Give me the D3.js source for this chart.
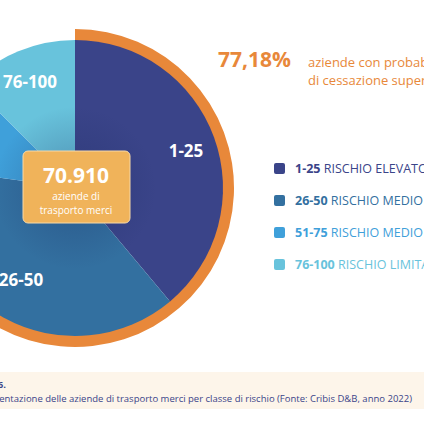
<!DOCTYPE html><html><head><meta charset="utf-8">
<script src="https://cdn.jsdelivr.net/npm/d3@7"></script>
<style>body{margin:0;background:#fff}svg{display:block;font-family:"Open Sans",sans-serif}</style></head><body>
<svg id="c" width="424" height="424"></svg>
<script>
const categories=["1-25","26-50","51-75","76-100"];
const values=[38.9,38.28,10.32,12.5];
const legendNames=["RISCHIO ELEVATO","RISCHIO MEDIO ALTO","RISCHIO MEDIO BASSO","RISCHIO LIMITATO"];
const colors=["#3A4489","#3370A0","#3FA0DA","#68C3DC"];
const highlightPct=77.18;
const total="70.910";
const svg=d3.select("#c");
const cx=75,cy=188,r=148;
const defs=svg.append("defs");
const rg=defs.append("radialGradient").attr("id","sh");
rg.append("stop").attr("offset","0").attr("stop-color","#1a2a60").attr("stop-opacity",0.35);
rg.append("stop").attr("offset","0.55").attr("stop-color","#1a2a60").attr("stop-opacity",0);
const g=svg.append("g").attr("transform",`translate(${cx},${cy})`);
const pie=d3.pie().sort(null).value(d=>d)(values);
const arc=d3.arc().innerRadius(0).outerRadius(r);
g.append("path").attr("fill","#E8883A").attr("d",d3.arc().innerRadius(r-2).outerRadius(r+11)({startAngle:0,endAngle:2*Math.PI*highlightPct/100}));
g.selectAll("path.s").data(pie).join("path").attr("class","s").attr("fill",(d,i)=>colors[i]).attr("d",arc);
g.append("circle").attr("r",r).attr("fill","url(#sh)");
const labelPos=[[111,-31],[-54,98],null,[-45,-100]];
categories.forEach((c,i)=>{if(!labelPos[i])return;
 g.append("text").attr("x",labelPos[i][0]).attr("y",labelPos[i][1]).attr("text-anchor","middle").attr("fill","#fff").attr("font-size",17).attr("font-weight",700).text(c);});
const b=svg.append("g");
b.append("rect").attr("x",23).attr("y",151).attr("width",107).attr("height",72).attr("rx",5).attr("fill","#F0B35A").attr("stroke","#f7d9a8");
b.append("text").attr("x",76).attr("y",183).attr("text-anchor","middle").attr("fill","#fff").attr("font-size",21).attr("font-weight",700).text(total);
b.append("text").attr("x",76).attr("y",200).attr("text-anchor","middle").attr("fill","#fff").attr("font-size",10).text("aziende di");
b.append("text").attr("x",76).attr("y",214).attr("text-anchor","middle").attr("fill","#fff").attr("font-size",10).text("trasporto merci");
svg.append("text").attr("x",218).attr("y",67).attr("fill","#E8883A").attr("font-size",21).attr("font-weight",700).text("77,18%");
svg.append("text").attr("x",308).attr("y",67).attr("fill","#E8883A").attr("font-size",13).text("aziende con probabilità");
svg.append("text").attr("x",308).attr("y",85).attr("fill","#E8883A").attr("font-size",13).text("di cessazione superiore");
categories.forEach((c,i)=>{const y=169+i*32;
 svg.append("rect").attr("x",274).attr("y",y-6).attr("width",11).attr("height",11).attr("rx",2).attr("fill",colors[i]);
 const t=svg.append("text").attr("x",295).attr("y",y+4).attr("font-size",12.5).attr("fill",colors[i]);
 t.append("tspan").attr("font-weight",700).text(c+" ");t.append("tspan").text(legendNames[i]);});
svg.append("rect").attr("x",0).attr("y",372).attr("width",424).attr("height",37).attr("fill","#FDF5EA");
svg.append("text").attr("x",6).attr("y",388).attr("text-anchor","end").attr("fill","#3A4489").attr("font-size",9.5).attr("font-weight",700).text("Figura 6.");
svg.append("text").attr("x",412).attr("y",402).attr("text-anchor","end").attr("fill","#3A4489").attr("font-size",9.5).text("Rappresentazione delle aziende di trasporto merci per classe di rischio (Fonte: Cribis D&B, anno 2022)");
</script></body></html>
